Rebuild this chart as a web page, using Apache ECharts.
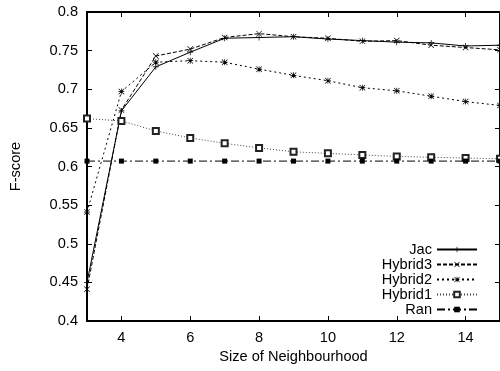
<!DOCTYPE html>
<html>
<head>
<meta charset="utf-8">
<script src="https://cdn.jsdelivr.net/npm/echarts@6/dist/echarts.min.js"></script>
<style>html,body{margin:0;padding:0;background:#fff}#c{width:500px;height:371px}</style>
</head>
<body>
<div id="c"></div>
<script>
var sizes = [3, 4, 5, 6, 7, 8, 9, 10, 11, 12, 13, 14, 15];
var jac     = [0.450, 0.672, 0.729, 0.748, 0.766, 0.767, 0.768, 0.765, 0.763, 0.761, 0.760, 0.756, 0.757];
var hybrid3 = [0.441, 0.673, 0.743, 0.752, 0.767, 0.772, 0.768, 0.766, 0.762, 0.763, 0.757, 0.754, 0.751];
var hybrid2 = [0.541, 0.697, 0.735, 0.737, 0.735, 0.726, 0.718, 0.711, 0.702, 0.698, 0.691, 0.684, 0.679];
var hybrid1 = [0.662, 0.659, 0.646, 0.637, 0.630, 0.624, 0.619, 0.617, 0.615, 0.613, 0.612, 0.611, 0.610];
var ran     = [0.607, 0.607, 0.607, 0.607, 0.607, 0.607, 0.607, 0.607, 0.607, 0.607, 0.607, 0.607, 0.607];
var xTicks = [4, 6, 8, 10, 12, 14];
var seriesNames = ['Jac', 'Hybrid3', 'Hybrid2', 'Hybrid1', 'Ran'];

function pairs(vals) { return sizes.map(function (s, i) { return [s, vals[i]]; }); }

var FONT = 'Liberation Sans, Arial, sans-serif';
var FS = 14.6;
var plusSym = 'path://M4.4,0h1.2v10h-1.2z M0,4.4h10v1.2h-10z';
var crossSym = 'path://M0,0.8L0.8,0L10,9.2L9.2,10Z M9.2,0L10,0.8L0.8,10L0,9.2Z';
var starSym = 'path://M0,0.8L0.8,0L10,9.2L9.2,10Z M9.2,0L10,0.8L0.8,10L0,9.2Z M4.4,0h1.2v10h-1.2z M0,4.4h10v1.2h-10z';

function mk(name, vals, sym, size, lineType, lineColor, itemStyle) {
  return {
    name: name, type: 'line', data: pairs(vals),
    symbol: sym, symbolSize: size, showSymbol: true,
    lineStyle: { color: lineColor, width: 1, type: lineType },
    itemStyle: itemStyle,
    emphasis: { disabled: true },
    animation: false, z: 3, clip: false
  };
}

var axisLineStyle = { color: '#000', width: 2 };
var chart = echarts.init(document.getElementById('c'), null, { renderer: 'canvas' });
chart.setOption({
  animation: false,
  backgroundColor: '#fff',
  grid: { left: 85, right: 0, top: 12, bottom: 50 },
  xAxis: [{
    type: 'value', min: 3, max: 15, position: 'bottom',
    name: 'Size of Neighbourhood', nameLocation: 'middle', nameGap: 27,
    nameTextStyle: { fontFamily: FONT, fontSize: FS, color: '#000' },
    axisLine: { show: true, onZero: false, lineStyle: axisLineStyle },
    axisTick: { show: true, inside: true, length: 5, lineStyle: { color: '#000', width: 1 }, customValues: xTicks },
    axisLabel: { fontFamily: FONT, fontSize: FS, color: '#000', margin: 9, customValues: xTicks },
    splitLine: { show: false }
  }, {
    type: 'value', min: 3, max: 15, position: 'top',
    axisLine: { show: true, onZero: false, lineStyle: axisLineStyle },
    axisTick: { show: true, inside: true, length: 5, lineStyle: { color: '#000', width: 1 }, customValues: xTicks },
    axisLabel: { show: false },
    splitLine: { show: false }
  }],
  yAxis: [{
    type: 'value', min: 0.4, max: 0.8, interval: 0.05, position: 'left',
    name: 'F-score', nameLocation: 'middle', nameGap: 64, nameRotate: 90,
    nameTextStyle: { fontFamily: FONT, fontSize: FS, color: '#000' },
    axisLine: { show: true, onZero: false, lineStyle: axisLineStyle },
    axisTick: { show: true, inside: true, length: 5, lineStyle: { color: '#000', width: 1 } },
    axisLabel: { fontFamily: FONT, fontSize: FS, color: '#000', margin: 9 },
    splitLine: { show: false }
  }, {
    type: 'value', min: 0.4, max: 0.8, interval: 0.05, position: 'right',
    axisLine: { show: true, onZero: false, lineStyle: axisLineStyle },
    axisTick: { show: true, inside: true, length: 5, lineStyle: { color: '#000', width: 1 } },
    axisLabel: { show: false },
    splitLine: { show: false }
  }],
  legend: {
    orient: 'vertical', right: 17, top: 237, align: 'right',
    itemWidth: 40, itemHeight: 7, itemGap: 0,
    data: seriesNames,
    textStyle: { fontFamily: FONT, fontSize: FS, color: '#000', lineHeight: 15 },
    selectedMode: false
  },
  series: [
    mk('Jac', jac, plusSym, 6, 'solid', '#000', { color: '#000', borderWidth: 0 }),
    mk('Hybrid3', hybrid3, crossSym, 6, [4, 2], '#000', { color: '#000', borderWidth: 0 }),
    mk('Hybrid2', hybrid2, starSym, 6, [2, 3], '#000', { color: '#000', borderWidth: 0 }),
    mk('Hybrid1', hybrid1, 'emptyRect', 6, [1, 2], '#444', { color: '#222', borderColor: '#222', borderWidth: 1 }),
    mk('Ran', ran, 'rect', 5, [8, 3, 2, 3], '#000', { color: '#000', borderWidth: 0 })
  ]
});
</script>
</body>
</html>
